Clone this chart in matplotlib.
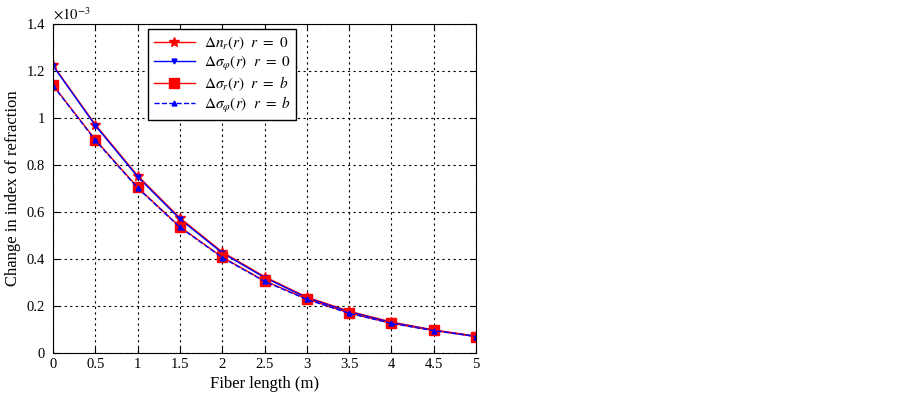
import matplotlib.pyplot as plt
from matplotlib.ticker import FuncFormatter

plt.rcParams['font.family'] = ['Liberation Serif', 'DejaVu Serif']
plt.rcParams['mathtext.fontset'] = 'stix'

# fiber length (m)
length = [0, 0.5, 1, 1.5, 2, 2.5, 3, 3.5, 4, 4.5, 5]
# change in index of refraction, x1e-3
dn_r0 = [1.225, 0.972, 0.755, 0.575, 0.43, 0.325, 0.238, 0.178, 0.132, 0.098, 0.072]
ds_phi_r0 = [1.222, 0.968, 0.750, 0.570, 0.426, 0.321, 0.235, 0.175, 0.130, 0.097, 0.071]
ds_r_rb = [1.140, 0.908, 0.705, 0.537, 0.408, 0.307, 0.230, 0.170, 0.127, 0.096, 0.070]
ds_phi_rb = [1.138, 0.905, 0.702, 0.535, 0.406, 0.305, 0.228, 0.169, 0.126, 0.095, 0.070]

xticks = [0, 0.5, 1, 1.5, 2, 2.5, 3, 3.5, 4, 4.5, 5]
yticks = [0, 0.2, 0.4, 0.6, 0.8, 1, 1.2, 1.4]

fig = plt.figure(figsize=(9.02, 3.93), dpi=100)
ax = fig.add_axes([0.0588, 0.1018, 0.4689, 0.837])

ax.plot(length, dn_r0, color='red', lw=1, marker='*', ms=7,
        label=r'$\Delta n_r(r)\ \ r\ =\ 0$')
ax.plot(length, ds_phi_r0, color='blue', lw=1, marker='v', ms=3.5,
        label=r'$\Delta \sigma_\varphi(r)\ \ r\ =\ 0$')
ax.plot(length, ds_r_rb, color='red', lw=1, marker='s', ms=7,
        label=r'$\Delta \sigma_r(r)\ \ r\ =\ b$')
ax.plot(length, ds_phi_rb, color='blue', lw=1, ls='--', marker='^', ms=3.5,
        label=r'$\Delta \sigma_\varphi(r)\ \ r\ =\ b$')

ax.set_xlim(0, 5)
ax.set_ylim(0, 1.4)
ax.set_xticks(xticks)
ax.set_yticks(yticks)
ax.xaxis.set_major_formatter(FuncFormatter(lambda v, p: '%g' % v))
ax.yaxis.set_major_formatter(FuncFormatter(lambda v, p: '%g' % v))
ax.tick_params(direction='in', top=True, right=True, labelsize=10.5, length=4)
ax.tick_params(axis='y', pad=6)
ax.grid(True, color='black', ls=(0, (2, 3)), lw=0.8)

ax.set_xlabel('Fiber length (m)', fontsize=12)
ax.set_ylabel('Change in index of refraction', fontsize=12)
ax.text(0, 1.005, r'$\times 10^{-3}$', transform=ax.transAxes, fontsize=10.5,
        ha='left', va='bottom')

leg = ax.legend(loc='upper left', bbox_to_anchor=(0.225, 0.985), fontsize=11,
                fancybox=False, edgecolor='black', framealpha=1,
                handlelength=2.7, handletextpad=0.6, borderaxespad=0,
                labelspacing=0.12, borderpad=0.35)
leg.get_frame().set_linewidth(1)

fig.savefig('out.png', dpi=100)
